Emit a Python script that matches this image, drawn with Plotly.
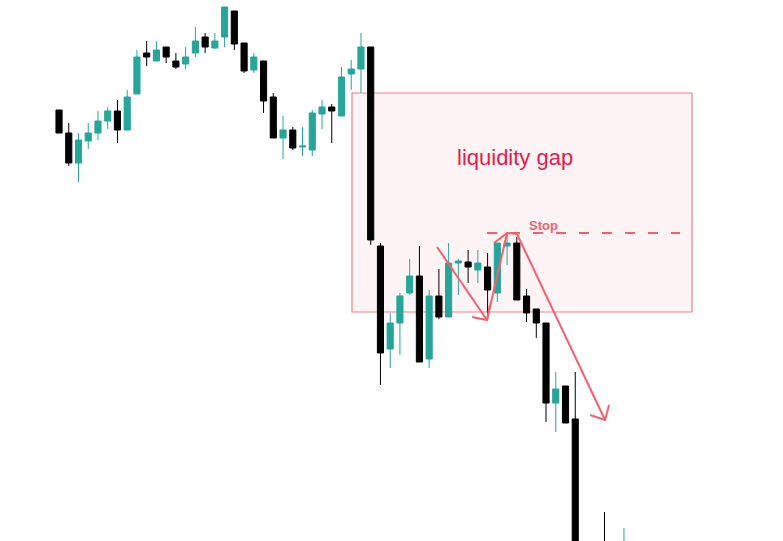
import plotly.graph_objects as go

# ---- candle data (index, OHLC in arbitrary price units) ----
candle_idx = list(range(59))
open_ = [590, 567, 537, 559, 567, 579, 589, 570, 606, 647,
         639, 653, 639, 636, 647, 663, 652, 663, 689, 657,
         630, 639, 603, 562, 570, 553, 550, 586, 593, 584,
         626, 631, 653, 454, 351, 377, 407, 424, 341, 404,
         383, 437, 438, 430, 433, 407, 454, 457, 404, 391,
         377, 297, 314, 281, 100, 70, 125, 90, 80]
high_ = [590, 577, 567, 577, 589, 593, 600, 610, 650, 659,
         659, 653, 647, 653, 673, 667, 667, 693, 689, 657,
         647, 639, 607, 584, 573, 573, 590, 600, 596, 633,
         640, 667, 653, 457, 387, 407, 441, 454, 410, 431,
         457, 441, 450, 450, 447, 457, 467, 463, 411, 391,
         377, 328, 314, 328, 120, 130, 188, 110, 172]
low_ = [567, 534, 518, 551, 560, 571, 557, 570, 606, 634,
        639, 637, 631, 631, 643, 647, 651, 653, 650, 627,
        627, 587, 562, 541, 550, 544, 544, 571, 557, 584,
        610, 607, 455, 315, 332, 345, 405, 338, 332, 381,
        383, 405, 417, 417, 380, 398, 435, 400, 378, 362,
        278, 268, 277, 60, 50, 50, 80, 60, 60]
close_ = [567, 537, 560, 567, 579, 589, 570, 603, 643, 643,
          650, 643, 633, 643, 659, 653, 659, 693, 656, 629,
          643, 599, 562, 570, 552, 554, 587, 593, 589, 623,
          631, 653, 460, 347, 377, 404, 424, 338, 404, 383,
          437, 439, 433, 437, 410, 457, 457, 400, 387, 377,
          297, 311, 277, 100, 70, 105, 90, 75, 120]

# ---- annotation geometry (data units) ----
gap_box_x = [30.08, 64.99]
gap_box_y = [388, 607]
gap_label_pos = [46.8, 543]
stop_line_x = [43.94, 63.76]
stop_line_y = 467
stop_label_pos = [49.7, 475]
arrow_paths = [
    [(38.81, 453), (43.94, 380)],
    [(42.40, 383), (43.94, 380), (44.25, 395)],
    [(43.94, 380), (46.00, 467)],
    [(44.66, 457), (46.00, 467), (47.02, 466)],
    [(47.02, 466), (56.06, 280)],
    [(54.52, 285), (56.06, 280), (56.47, 295)],
]
x_range = [-6.06, 74.33]
y_range = [159, 700]

TEAL = "#26a69a"
BLACK = "#000000"
RED = "#f4606e"

fig = go.Figure()

fig.add_trace(go.Candlestick(
    x=candle_idx, open=open_, high=high_, low=low_, close=close_,
    increasing=dict(line=dict(color=TEAL, width=1), fillcolor=TEAL),
    decreasing=dict(line=dict(color=BLACK, width=1), fillcolor=BLACK),
    showlegend=False, hoverinfo="skip",
))

shapes = [
    dict(type="rect", xref="x", yref="y",
         x0=gap_box_x[0], x1=gap_box_x[1], y0=gap_box_y[0], y1=gap_box_y[1],
         fillcolor="rgba(240,110,140,0.08)", line=dict(color="#f2808c", width=1.2),
         layer="below"),
    dict(type="line", xref="x", yref="y",
         x0=stop_line_x[0], x1=stop_line_x[1], y0=stop_line_y, y1=stop_line_y,
         line=dict(color=RED, width=2, dash="10px,13px")),
]
for path in arrow_paths:
    d = "M " + " L ".join(f"{px},{py}" for px, py in path)
    shapes.append(dict(type="path", xref="x", yref="y", path=d,
                       line=dict(color=RED, width=2)))

fig.update_layout(
    width=783, height=541,
    margin=dict(l=0, r=0, t=0, b=0),
    paper_bgcolor="white", plot_bgcolor="white",
    boxgap=0.1,
    shapes=shapes,
    annotations=[
        dict(x=gap_label_pos[0], y=gap_label_pos[1], xref="x", yref="y",
             text="liquidity gap", showarrow=False,
             font=dict(family="Liberation Sans, Arial", size=22, color="#e8194a")),
        dict(x=stop_label_pos[0], y=stop_label_pos[1], xref="x", yref="y",
             text="<b>Stop</b>", showarrow=False,
             font=dict(family="Liberation Sans, Arial", size=13, color=RED)),
    ],
    xaxis=dict(range=x_range, visible=False, rangeslider=dict(visible=False),
               fixedrange=True),
    yaxis=dict(range=y_range, visible=False, fixedrange=True),
    showlegend=False,
)

fig.write_html(
    "out.html",
    config={"displayModeBar": False, "staticPlot": True},
    post_script="document.body.style.margin='0px';document.body.style.overflow='hidden';",
)
